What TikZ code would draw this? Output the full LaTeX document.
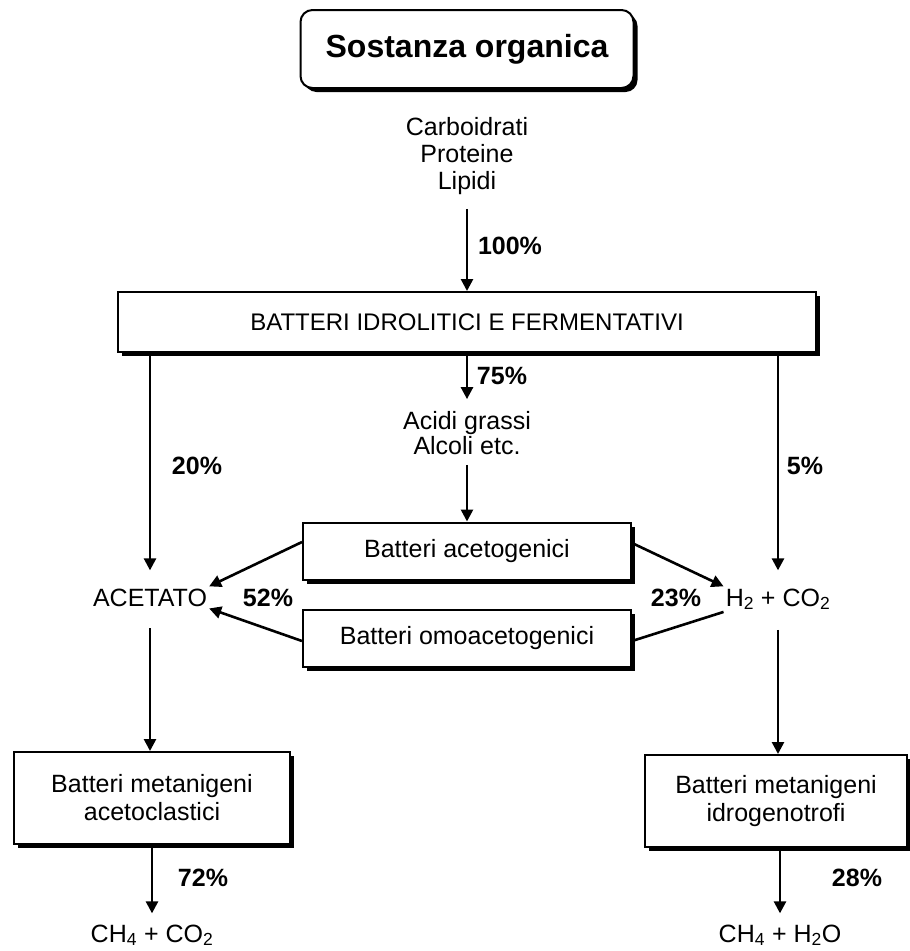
\documentclass[tikz,border=0pt]{standalone}
\usepackage{fontspec}
\setmainfont{Liberation Sans}
\usetikzlibrary{arrows.meta,shadows,calc}
\begin{document}
\begin{tikzpicture}[x=1pt,y=-1pt,
  txt/.style={font=\fontsize{25}{27}\selectfont, inner sep=2pt, align=center},
  pct/.style={font=\fontsize{25}{27}\selectfont\bfseries, inner sep=0pt, anchor=base},
  box/.style={draw, line width=2pt, fill=white, font=\fontsize{25}{28}\selectfont, align=center, inner sep=0pt,
    drop shadow={shadow xshift=4pt,shadow yshift=-4pt,fill=black,opacity=1}},
  arr/.style={-{Triangle[length=12pt,width=12pt]}, line width=2.6pt},
  ln/.style={line width=2.6pt}
]
\useasboundingbox[fill=white] (0,0) rectangle (910,951);

% boxes
\node[box, rounded corners=12pt, minimum width=333pt, minimum height=78pt,
  font=\fontsize{32}{36}\selectfont\bfseries] (top) at (467,49) {Sostanza organica};
\node[box, minimum width=698pt, minimum height=60pt, font=\fontsize{24}{28}\selectfont] (bat) at (467,322) {BATTERI IDROLITICI E FERMENTATIVI};
\node[box, minimum width=328pt, minimum height=57pt] (acetbox) at (467,551) {Batteri acetogenici};
\node[box, minimum width=328pt, minimum height=57pt] (omobox) at (467,638) {Batteri omoacetogenici};
\node[box, minimum width=276pt, minimum height=92pt] (lbox) at (152,798) {Batteri metanigeni\\acetoclastici};
\node[box, minimum width=262pt, minimum height=92pt] (rbox) at (776,801) {Batteri metanigeni\\idrogenotrofi};

% texts
\node[txt] (carb) at (467,156) {Carboidrati\\Proteine\\Lipidi};
\node[txt, font=\fontsize{25}{25}\selectfont] (acidi) at (467,433) {Acidi grassi\\Alcoli etc.};
\node[txt, anchor=base] (acet) at (150,606) {ACETATO};
\node[txt, anchor=base] (h2) at (778,606) {H\textsubscript{2} + CO\textsubscript{2}};
\node[txt, anchor=base] (ch1) at (152,942) {CH\textsubscript{4} + CO\textsubscript{2}};
\node[txt, anchor=base] (ch2) at (780,942) {CH\textsubscript{4} + H\textsubscript{2}O};

% percentages
\node[pct] (p100) at (510,254) {100\%};
\node[pct] (p75) at (502,384) {75\%};
\node[pct] (p20) at (197,474) {20\%};
\node[pct] (p5) at (805,474) {5\%};
\node[pct] (p52) at (268,606) {52\%};
\node[pct] (p23) at (676,606) {23\%};
\node[pct] (p72) at (203,886) {72\%};
\node[pct] (p28) at (857,886) {28\%};

\coordinate (rout) at ([xshift=4pt]rbox.south);

% connectors
\draw[arr] ([yshift=-12pt]carb.south) -- (bat.north);
\draw[arr] (bat.south) -- ([yshift=10pt]acidi.north);
\draw[arr] ([yshift=-8pt]acidi.south) -- (acetbox.north);
\draw[arr] (bat.south -| acet) -- ([yshift=16pt]acet.north);
\draw[arr] (bat.south -| h2) -- ([yshift=16pt]h2.north);
\draw[arr] ([yshift=9pt]acetbox.west) -- (acet.north east);
\draw[arr] ([yshift=-3pt]omobox.west) -- (acet.south east);
\draw[arr] ([yshift=8pt]acetbox.east) -- (h2.north west);
\draw[ln] (h2.south west) -- ([yshift=-3pt]omobox.east);
\draw[arr] ([yshift=-20pt]acet.south) -- (acet.south |- lbox.north);
\draw[arr] ([yshift=-18pt]h2.south) -- (h2.south |- rbox.north);
\draw[arr] (lbox.south) -- ([yshift=9pt]ch1.north);
\draw[arr] (rout) -- ([yshift=9pt]rout |- ch2.north);
\end{tikzpicture}
\end{document}
